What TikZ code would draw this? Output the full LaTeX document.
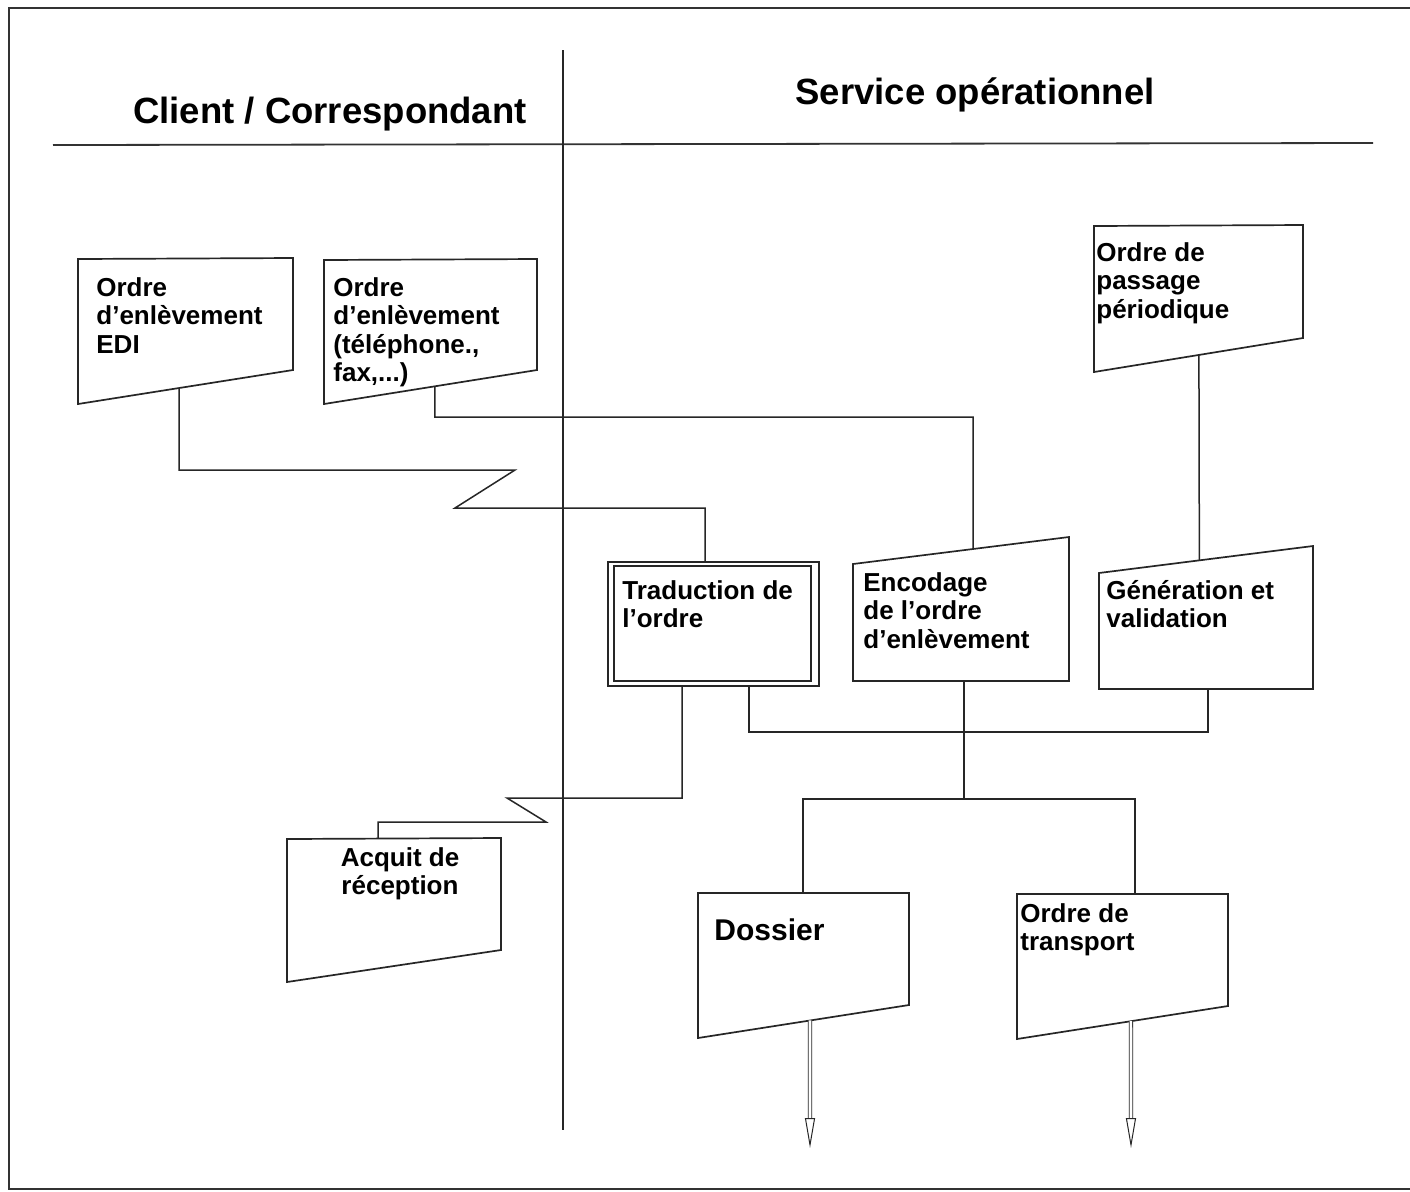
\documentclass[tikz,border=0pt]{standalone}
\usepackage{fontspec}
\setmainfont{Liberation Sans}
\usetikzlibrary{calc,arrows.meta}

% document symbol: flat top, slanted bottom (or the reverse), corners named #1-tl, #1-tr, #1-br, #1-bl
\newcommand\docshape[7]{%
  \coordinate (#1-tl) at (#2,#4);
  \coordinate (#1-tr) at (#3,#5);
  \coordinate (#1-br) at (#3,#6);
  \coordinate (#1-bl) at (#2,#7);
  \draw[shapeline] (#1-tl) -- (#1-tr) -- (#1-br) -- (#1-bl) -- cycle;}

\begin{document}
\begin{tikzpicture}[x=0.5pt,y=-0.5pt,
  shapeline/.style={draw=black!85,line width=0.85pt,line join=miter},
  link/.style={draw=black!85,line width=0.75pt},
  boxtext/.style={anchor=north west,inner sep=0pt,align=left,text=black,
    font=\fontsize{13}{14.25}\selectfont\bfseries},
  headtext/.style={anchor=base,inner sep=0pt,text=black,
    font=\fontsize{18.25}{22}\selectfont\bfseries},
  outflow/.style={draw=black!85,line width=0.4pt,double=white,double distance=1.3pt,
    -{Triangle[open,length=15pt,width=5pt,line width=0.5pt]}}]

\useasboundingbox (0,0) rectangle (1410,1191);
\fill[white] (0,0) rectangle (1410,1191);

% outer frame
\draw[black!80,line width=1.3pt] (1430,8) -- (9,8) -- (9,1189) -- (1430,1189);

% swimlane headers and separators
\node[headtext] (lane-client) at (330,123) {Client / Correspondant};
\node[headtext] (lane-service) at (975,104) {Service opérationnel};
\draw[black!80,line width=0.9pt] (53,145) -- (1373,143);
\draw[black!85,line width=0.65pt] (563,50) -- (563,1130);

% document symbols
\docshape{edi}{78}{293}{259}{258}{370}{404}
\docshape{tel}{324}{537}{260}{259}{370}{404}
\docshape{per}{1094}{1303}{226}{225}{338}{372}
\docshape{enc}{853}{1069}{564}{537}{681}{681}
\docshape{gen}{1099}{1313}{573}{546}{689}{689}
\docshape{acq}{287}{501}{839}{838}{950}{982}
\docshape{dos}{698}{909}{893}{893}{1005}{1038}
\docshape{tra}{1017}{1228}{894}{894}{1006}{1039}

% process box with double border
\coordinate (trad-tl) at (608,562);
\coordinate (trad-br) at (819,686);
\draw[shapeline] (trad-tl) rectangle (trad-br);
\draw[shapeline] ($(trad-tl)+(6,4)$) rectangle ($(trad-br)+(-8,-5)$);

% texts
\node[boxtext] (t-edi) at (96,277) {Ordre\\d'enlèvement\\EDI};
\node[boxtext] (t-tel) at (333,277) {Ordre\\d'enlèvement\\(téléphone.,\\fax,...)};
\node[boxtext] (t-per) at (1096,242) {Ordre de\\passage\\périodique};
\node[boxtext] (t-trad) at (622,580) {Traduction de\\l'ordre};
\node[boxtext] (t-enc) at (863,572) {Encodage\\de l'ordre\\d'enlèvement};
\node[boxtext] (t-gen) at (1106,580) {Génération et\\validation};
\node[boxtext,anchor=north,align=center] (t-acq) at (400,847) {Acquit de\\réception};
\node[boxtext,font=\fontsize{15}{18}\selectfont\bfseries] (t-dos) at (714,918) {Dossier};
\node[boxtext] (t-tra) at (1020,903) {Ordre de\\transport};

% connection points
\coordinate (edi-out) at ($(edi-bl)!0.47!(edi-br)$);
\coordinate (tel-out) at ($(tel-bl)!0.521!(tel-br)$);
\coordinate (per-out) at ($(per-bl)!0.502!(per-br)$);
\coordinate (enc-in)  at ($(enc-tl)!0.556!(enc-tr)$);
\coordinate (gen-in)  at ($(gen-tl)!0.469!(gen-tr)$);
\coordinate (trad-in) at (705,562);
\coordinate (trad-out1) at (682,686);
\coordinate (trad-out2) at (749,686);
\coordinate (enc-out) at (964,681);
\coordinate (gen-out) at (1208,689);
\coordinate (acq-in) at (378,838);
\coordinate (dos-in) at (803,893);
\coordinate (tra-in) at (1135,894);
\coordinate (dos-out) at ($(dos-bl)!0.531!(dos-br)$);
\coordinate (tra-out) at ($(tra-bl)!0.540!(tra-br)$);
\coordinate (dos-tip) at (810,1148);
\coordinate (tra-tip) at (1131,1148);

% bends
\coordinate (zig1a) at (515,470);
\coordinate (zig1b) at (455,508);
\coordinate (tel-bend) at (973,417);
\coordinate (zig2a) at (507,798);
\coordinate (zig2b) at (546,822);
\coordinate (bus) at (1208,732);
\coordinate (split) at (964,799);

% connectors
\draw[link] (edi-out) |- (zig1a) -- (zig1b) -| (trad-in);
\draw[link] (tel-out) |- (tel-bend) -- (enc-in);
\draw[link] (per-out) -- (gen-in);
\draw[link] (trad-out2) |- (bus) -- (gen-out);
\draw[link] (trad-out1) |- (zig2a) -- (zig2b) -| (acq-in);
\draw[link] (enc-out) -- (split);
\draw[link] (dos-in) |- (split) -| (tra-in);

% outgoing flows
\draw[outflow] (dos-out) -- (dos-tip);
\draw[outflow] (tra-out) -- (tra-tip);
\end{tikzpicture}
\end{document}
